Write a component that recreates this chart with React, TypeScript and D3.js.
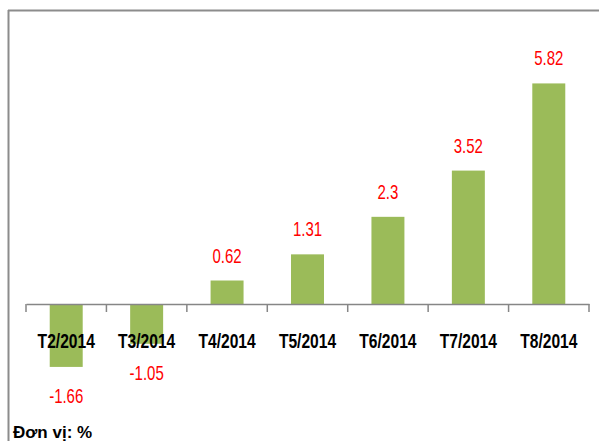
import * as d3 from "d3"
import React, { useEffect, useRef } from "react"

// chart data
const months = ["T2/2014", "T3/2014", "T4/2014", "T5/2014", "T6/2014", "T7/2014", "T8/2014"]
const values = [-1.66, -1.05, 0.62, 1.31, 2.3, 3.52, 5.82]
const unitLabel = "Đơn vị: %"

const W = 599, H = 441
const plotLeft = 26, plotRight = 589
const sans = "'Liberation Sans', Arial, sans-serif"

export default function App() {
  const ref = useRef<SVGSVGElement>(null)

  useEffect(() => {
    const svg = d3.select(ref.current)
    svg.selectAll("*").remove()

    const x = d3.scaleBand<string>()
      .domain(months)
      .range([plotLeft, plotRight])
      .paddingInner(0.59)
      .paddingOuter(0.295)

    // zero line sits at 304px, ~37.9px per unit
    const y = d3.scaleLinear()
      .domain([-3, 7])
      .range([304 + 3 * 37.9, 304 - 7 * 37.9])

    // frame (top and left edges only visible)
    svg.append("line")
      .attr("x1", 8).attr("x2", W).attr("y1", 10.5).attr("y2", 10.5)
      .attr("stroke", "#8c8c8c").attr("stroke-width", 2)
    svg.append("line")
      .attr("x1", 8.5).attr("x2", 8.5).attr("y1", 10).attr("y2", H)
      .attr("stroke", "#8c8c8c").attr("stroke-width", 2)

    // bars
    svg.append("g")
      .selectAll("rect")
      .data(values)
      .enter()
      .append("rect")
      .attr("x", (d, i) => x(months[i])!)
      .attr("width", x.bandwidth())
      .attr("y", d => y(Math.max(0, d)))
      .attr("height", d => Math.abs(y(d) - y(0)))
      .attr("fill", "#9bbb59")

    // category axis at zero
    const axis = d3.axisBottom(x).tickSize(0).tickFormat(() => "")
    const g = svg.append("g")
      .attr("transform", `translate(0,${y(0)})`)
      .call(axis)
    g.select(".domain").attr("stroke", "#868686").attr("stroke-width", 1.5)

    // tick marks at band boundaries
    const bounds = months.map(m => x(m)! - (x.step() - x.bandwidth()) / 2).concat([plotRight])
    svg.append("g")
      .selectAll("line")
      .data(bounds)
      .enter()
      .append("line")
      .attr("x1", d => d).attr("x2", d => d)
      .attr("y1", y(0)).attr("y2", y(0) + 8)
      .attr("stroke", "#868686").attr("stroke-width", 1.5)

    // category labels (condensed bold)
    svg.append("g")
      .selectAll("text")
      .data(months)
      .enter()
      .append("text")
      .attr("transform", d => `translate(${x(d)! + x.bandwidth() / 2},348) scale(0.78,1)`)
      .attr("text-anchor", "middle")
      .attr("font-family", sans)
      .attr("font-weight", "bold")
      .attr("font-size", 20)
      .attr("fill", "#000")
      .text(d => d)

    // value labels (condensed)
    svg.append("g")
      .selectAll("text")
      .data(values)
      .enter()
      .append("text")
      .attr("transform", (d, i) => {
        const cx = x(months[i])! + x.bandwidth() / 2
        const ty = d >= 0 ? y(d) - 18 : y(d) + 36
        return `translate(${cx},${ty}) scale(0.75,1)`
      })
      .attr("text-anchor", "middle")
      .attr("font-family", sans)
      .attr("font-size", 20)
      .attr("fill", "#ff0000")
      .text(d => String(d))

    svg.append("text")
      .attr("x", 13)
      .attr("y", 438)
      .attr("font-family", sans)
      .attr("font-weight", "bold")
      .attr("font-size", 17)
      .attr("fill", "#000")
      .text(unitLabel)
  }, [])

  return (
    <svg
      ref={ref}
      width={W}
      height={H}
      style={{ position: "absolute", left: 0, top: 0, background: "#fff" }}
    />
  )
}
